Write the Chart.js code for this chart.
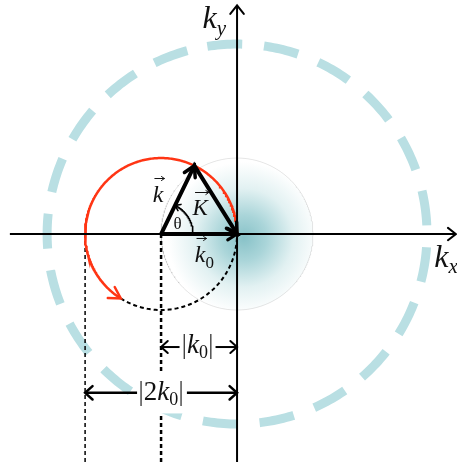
<!DOCTYPE html>
<html>
<head>
<meta charset="utf-8">
<script src="https://cdn.jsdelivr.net/npm/chart.js@4.4.1/dist/chart.umd.min.js"></script>
<style>
  html, body { margin: 0; padding: 0; background: #fff; }
  canvas { display: block; }
</style>
</head>
<body>
<canvas id="chart" width="457" height="462"></canvas>
<script>
// every length is in units of |k0|
const k0 = 1;
const thetaDeg = 64;                 // angle between k and k0
const ewaldCentre = [-k0, 0];        // centre of the red circle
const bigRadius = 2.5;               // big dashed circle
const glowRadius = 1;                // shaded disc round the origin
const glowCentre = [0.09, -0.05];
const thetaArcRadius = 0.42;
const redArcEnd = 238;               // red arc runs 0 -> 238 deg, dashed part the rest
const xView = [-3.12, 2.895];
const yView = [-3.0, 3.08];
const xAxisEnds = [-2.99, 2.88];
const yAxisEnds = [-3.0, 3.01];
const dimY = [-1.487, -2.09];        // |k0| and |2k0| dimension lines
const dimGaps = [[-0.75, -0.30], [-1.27, -0.66]];

const rad = d => d * Math.PI / 180;
const vertex = [ewaldCentre[0] + k0 * Math.cos(rad(thetaDeg)), k0 * Math.sin(rad(thetaDeg))];
const origin = [0, 0];

function arcPts(c, r, a0, a1) {
  const pts = [];
  const n = Math.max(2, Math.round(Math.abs(a1 - a0)));
  for (let i = 0; i <= n; i++) {
    const a = rad(a0 + (a1 - a0) * i / n);
    pts.push({ x: c[0] + r * Math.cos(a), y: c[1] + r * Math.sin(a) });
  }
  return pts;
}
const seg = (...ps) => ps.map(p => ({ x: p[0], y: p[1] }));

const line = (data, color, width, order, extra) => Object.assign({
  data, borderColor: color, borderWidth: width, order, fill: false, pointRadius: 0
}, extra || {});

const datasets = [
  line(arcPts(origin, glowRadius, 0, 360), 'rgba(0,0,0,0.13)', 0.8, 20, {
    fill: 'shape',
    backgroundColor: c => {
      const ch = c.chart, { x, y } = ch.scales;
      if (!ch.chartArea || !x) return 'rgba(0,0,0,0)';
      const cx = x.getPixelForValue(glowCentre[0]), cy = y.getPixelForValue(glowCentre[1]);
      const r = x.getPixelForValue(1.0) - x.getPixelForValue(0);
      const g = ch.ctx.createRadialGradient(cx, cy, 0, cx, cy, r);
      g.addColorStop(0, 'rgb(136,194,200)');
      g.addColorStop(0.3, 'rgb(170,213,217)');
      g.addColorStop(0.65, 'rgb(226,241,242)');
      g.addColorStop(1, 'rgba(255,255,255,1)');
      return g;
    }
  }),
  line(arcPts(origin, bigRadius, 99, 99 - 360), '#b9dfe3', 9, 19, { borderDash: [35, 21.9], borderCapStyle: 'butt' }),
  line(seg([-2 * k0, 0], [-2 * k0, -3.1]), '#000', 1.5, 18, { borderDash: [4, 3] }),
  line(seg([-k0, 0], [-k0, -3.1]), '#000', 2.5, 18, { borderDash: [4, 3] }),
  line(arcPts(ewaldCentre, k0, redArcEnd, 360), '#000', 2, 17, { borderDash: [4, 3] }),
  line(arcPts(ewaldCentre, k0, 0, redArcEnd), '#ff3514', 2.5, 16),
  line(seg([xAxisEnds[0], 0], [xAxisEnds[1], 0]), '#000', 2, 15),
  line(seg([0, yAxisEnds[0]], [0, yAxisEnds[1]]), '#000', 2, 15),
  line(seg(ewaldCentre, vertex, origin, ewaldCentre), '#000', 4, 14, { borderJoinStyle: 'miter' }),
  line(arcPts(ewaldCentre, thetaArcRadius, 0, thetaDeg), '#000', 1.6, 13),
  line(seg([-k0, dimY[0]], [dimGaps[0][0], dimY[0]]), '#000', 2, 12),
  line(seg([dimGaps[0][1], dimY[0]], [0, dimY[0]]), '#000', 2, 12),
  line(seg([-2 * k0, dimY[1]], [dimGaps[1][0], dimY[1]]), '#000', 2.5, 12),
  line(seg([dimGaps[1][1], dimY[1]], [0, dimY[1]]), '#000', 2.5, 12)
];

const redTip = [ewaldCentre[0] + Math.cos(rad(redArcEnd)), Math.sin(rad(redArcEnd))];
const thetaTip = [ewaldCentre[0] + thetaArcRadius * Math.cos(rad(thetaDeg)), thetaArcRadius * Math.sin(rad(thetaDeg))];
const kAngle = Math.atan2(-vertex[1], -vertex[0]) * 180 / Math.PI;

// tip, direction (deg), length, half-angle, width, colour
const heads = [
  [[xAxisEnds[1], 0], 0, 10, 38, 2, '#000'],
  [[0, yAxisEnds[1]], 90, 11, 38, 2, '#000'],
  [vertex, thetaDeg, 12, 30, 3.5, '#000'],
  [origin, kAngle, 12, 30, 3.5, '#000'],
  [origin, 0, 11, 32, 3, '#000'],
  [redTip, redArcEnd + 90, 13, 30, 2.5, '#ff3514'],
  [thetaTip, thetaDeg + 90, 6, 35, 1.6, '#000'],
  [[-k0, dimY[0]], 180, 9, 42, 2, '#000'],
  [[0, dimY[0]], 0, 9, 42, 2, '#000'],
  [[-2 * k0, dimY[1]], 180, 10, 42, 2.5, '#000'],
  [[0, dimY[1]], 0, 10, 42, 2.5, '#000']
];

// [centre x, baseline y], parts: [text, italic?, size, dy], vector arrow?, white box [w,h]
const labels = [
  { at: [-0.30, 2.71], parts: [['k', 1, 32, 0], ['y', 1, 21, 7]] },
  { at: [2.75, -0.434], parts: [['k', 1, 32, 0], ['x', 1, 21, 6]] },
  { at: [-1.04, 0.421], parts: [['k', 1, 24, 0]], vec: true },
  { at: [-0.487, 0.25], parts: [['K', 1, 23, 0]], vec: true },
  { at: [-0.43, -0.368], parts: [['k', 1, 24, 0], ['0', 0, 17, 6]], vec: true },
  { at: [-0.783, 0.066], parts: [['θ', 0, 17, 0]] },
  { at: [-0.52, -1.566], parts: [['|', 0, 28, 0], ['k', 1, 27, 0], ['0', 0, 18, 5], ['|', 0, 28, 0]], box: [36, 34] },
  { at: [-1.0, -2.184], parts: [['|', 0, 28, 0], ['2', 0, 27, 0], ['k', 1, 27, 0], ['0', 0, 18, 5], ['|', 0, 28, 0]], box: [48, 42] }
];

const overlay = {
  id: 'overlay',
  afterDatasetsDraw(chart) {
    const { ctx, scales: { x, y } } = chart;
    const px = v => x.getPixelForValue(v), py = v => y.getPixelForValue(v);
    ctx.save();
    const serif = '"Liberation Serif", "Times New Roman", serif';

    const drawHead = (tx, ty, dir, len, spread, w, color) => {
      ctx.strokeStyle = color; ctx.lineWidth = w; ctx.lineCap = 'round'; ctx.lineJoin = 'miter';
      ctx.setLineDash([]);
      ctx.beginPath();
      [1, -1].forEach((s, i) => {
        const b = rad(dir + 180 + s * spread);
        const ex = tx + len * Math.cos(b), ey = ty - len * Math.sin(b);
        if (i === 0) { ctx.moveTo(ex, ey); ctx.lineTo(tx, ty); } else ctx.lineTo(ex, ey);
      });
      ctx.stroke();
    };
    heads.forEach(([p, dir, len, spread, w, color]) => drawHead(px(p[0]), py(p[1]), dir, len, spread, w, color));

    labels.forEach(l => {
      const cx = px(l.at[0]), base = py(l.at[1]);
      let total = 0;
      const parts = l.parts.map(([t, it, size, dy]) => {
        const font = (it ? 'italic ' : '') + size + 'px ' + serif;
        ctx.font = font;
        const w = ctx.measureText(t).width;
        total += w;
        return { t, font, size, dy, w };
      });
      if (l.box) {
        ctx.fillStyle = '#fff';
        ctx.fillRect(cx - l.box[0] / 2, base - l.box[1] * 0.68, l.box[0], l.box[1]);
      }
      let xx = cx - total / 2;
      ctx.textBaseline = 'alphabetic';
      parts.forEach((p, i) => {
        ctx.font = p.font;
        ctx.fillStyle = p.t === '|' ? '#444' : '#111';
        ctx.fillText(p.t, xx, base + p.dy);
        if (l.vec && i === 0) {
          const ay = base - p.size * 0.98;
          const x0 = xx + p.w * 0.2, x1 = xx + p.w + 1;
          ctx.strokeStyle = '#111'; ctx.lineWidth = 1; ctx.setLineDash([]);
          ctx.beginPath(); ctx.moveTo(x0, ay); ctx.lineTo(x1, ay); ctx.stroke();
          drawHead(x1, ay, 0, 3.5, 35, 1, '#111');
        }
        xx += p.w;
      });
    });
    ctx.restore();
  }
};

new Chart(document.getElementById('chart'), {
  type: 'line',
  data: { datasets },
  options: {
    responsive: false,
    animation: false,
    devicePixelRatio: 1,
    events: [],
    layout: { padding: 0 },
    elements: { point: { radius: 0, hoverRadius: 0 }, line: { tension: 0 } },
    scales: {
      x: { type: 'linear', min: xView[0], max: xView[1], display: false },
      y: { type: 'linear', min: yView[0], max: yView[1], display: false }
    },
    plugins: { legend: { display: false }, tooltip: { enabled: false } }
  },
  plugins: [overlay]
});
</script>
</body>
</html>
